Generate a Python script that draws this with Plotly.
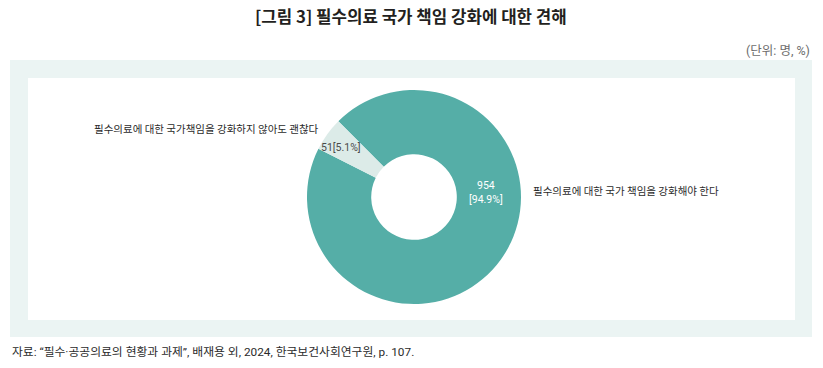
import plotly.graph_objects as go

W, H = 823, 368

# Data
categories = ["필수의료에 대한 국가 책임을 강화해야 한다", "필수의료에 대한 국가책임을 강화하지 않아도 괜찮다"]
counts = [954, 51]
percents = [94.9, 5.1]
slice_colors = ["#55AEA7", "#DCEBE8"]

title_text = "<b>[그림 3] 필수의료 국가 책임 강화에 대한 견해</b>"
unit_text = "(단위: 명, %)"
source_text = "자료: “필수·공공의료의 현황과 과제”, 배재용 외, 2024, 한국보건사회연구원, p. 107."

KR = "Noto Sans CJK KR, sans-serif"
NUM = "Roboto, Noto Sans CJK KR, sans-serif"

def px(x):
    return x / W

def py(y):
    return (H - y) / H

cx, cy, r = 414, 197, 107

fig = go.Figure()
fig.add_trace(go.Pie(
    labels=categories,
    values=counts,
    sort=False,
    direction="clockwise",
    rotation=315,
    hole=0.40,
    marker=dict(colors=slice_colors, line=dict(width=0)),
    textinfo="none",
    hoverinfo="label+value+percent",
    showlegend=False,
    domain=dict(x=[px(cx - r), px(cx + r)], y=[py(cy + r), py(cy - r)]),
))

shapes = [
    dict(type="rect", xref="paper", yref="paper", x0=px(10), x1=px(812), y0=py(337), y1=py(60),
         fillcolor="#EBF4F3", line=dict(width=0), layer="below"),
    dict(type="rect", xref="paper", yref="paper", x0=px(28), x1=px(795), y0=py(320), y1=py(78),
         fillcolor="#FFFFFF", line=dict(width=0), layer="below"),
]

annotations = [
    dict(x=px(411), y=py(16), text=title_text, showarrow=False, xanchor="center", yanchor="middle",
         font=dict(family=KR, size=16.8, color="#231F20")),
    dict(x=px(812), y=py(50), text=unit_text, showarrow=False, xanchor="right", yanchor="middle",
         font=dict(family=NUM, size=12.5, color="#6D6D6D")),
    dict(x=px(10), y=py(352), text=source_text, showarrow=False, xanchor="left", yanchor="middle",
         font=dict(family=NUM, size=11.8, color="#2B2B2B")),
    # slice value labels
    dict(x=px(486), y=py(192), text=f"{counts[0]}<br>[{percents[0]}%]", showarrow=False,
         xanchor="center", yanchor="middle", align="center",
         font=dict(family=NUM, size=10.5, color="#FFFFFF")),
    dict(x=px(341), y=py(147), text=f"{counts[1]}[{percents[1]}%]", showarrow=False,
         xanchor="center", yanchor="middle",
         font=dict(family=NUM, size=10.5, color="#4A4A4A")),
    # category labels
    dict(x=px(531), y=py(190), text=categories[0], showarrow=False, xanchor="left", yanchor="middle",
         font=dict(family=KR, size=10.5, color="#2B2B2B")),
    dict(x=px(321), y=py(129), text=categories[1], showarrow=False, xanchor="right", yanchor="middle",
         font=dict(family=KR, size=10.5, color="#2B2B2B")),
]

fig.update_layout(
    width=W, height=H,
    margin=dict(l=0, r=0, t=0, b=0),
    paper_bgcolor="#FFFFFF",
    plot_bgcolor="#FFFFFF",
    shapes=shapes,
    annotations=annotations,
)

fig.write_html("out.html", config={"displayModeBar": False},
               post_script="document.body.style.margin='0';document.body.style.overflow='hidden';")
